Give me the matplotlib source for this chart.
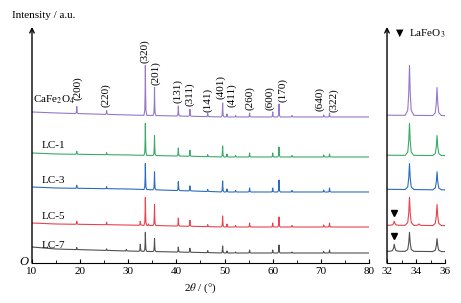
import numpy as np
import matplotlib
matplotlib.use("Agg")
import matplotlib.pyplot as plt

plt.rcParams['font.family'] = ['Liberation Serif', 'DejaVu Sans']
plt.rcParams['mathtext.fontset'] = 'stix'
plt.rcParams['font.size'] = 8

# peak positions (2theta, deg) shared by all patterns
peak_pos = [19.3, 25.5, 29.6, 32.5, 33.55, 34.2, 35.45, 40.4, 42.8, 46.5,
            49.6, 50.5, 52.3, 55.2, 60.0, 61.3, 64.0, 70.6, 71.8]

# peak heights above baseline for each sample
h_cafe = [7, 4, 0, 0, 50, 0, 28, 10, 7, 3, 14, 3, 1.5, 4, 5, 13, 1.5, 2, 4]
h_lc1 = [3, 2, 0, 0, 32, 0, 20, 8, 6, 2, 11, 3, 1.5, 4, 4, 10, 1.5, 2, 3]
h_lc3 = [3, 2, 0, 0, 26, 0, 18, 9, 5, 2, 11, 3, 1.5, 4, 4, 12, 1.5, 2, 4]
h_lc5 = [3, 2.5, 0, 4, 28, 1.5, 21, 8, 6, 2, 11, 3, 1.5, 4, 4, 10, 1.5, 2, 4]
h_lc7 = [2, 1.5, 1.5, 7, 19, 0, 13, 5, 4, 2, 7, 2, 1, 3, 3, 8, 1, 1.5, 3]

# baselines read at a few angles
base_x = [10, 15, 30, 50, 80]
base_cafe = [151, 150, 148, 146, 146]
base_lc1 = [110, 109, 108, 106, 106]
base_lc3 = [76, 75, 74, 71, 71]
base_lc5 = [40, 39, 38, 36, 36]
base_lc7 = [16, 14, 12, 10, 10]

samples = ['CaFe$_2$O$_4$', 'LC-1', 'LC-3', 'LC-5', 'LC-7']
heights = [h_cafe, h_lc1, h_lc3, h_lc5, h_lc7]
bases = [base_cafe, base_lc1, base_lc3, base_lc5, base_lc7]
colors = ['#9678c8', '#3aaa68', '#2c6cc0', '#e8434f', '#505050']
label_x = [10.2, 12.1, 12.1, 12.1, 12.1]
label_y = [160, 115, 80, 44, 15]

hkl = ['(200)', '(220)', '(320)', '(201)', '(131)', '(311)', '(141)',
       '(401)', '(411)', '(260)', '(600)', '(170)', '(640)', '(322)']
hkl_x = [19.4, 25.4, 33.5, 35.6, 40.2, 42.7, 46.5,
         49.2, 51.5, 55.2, 59.4, 62.1, 69.8, 72.7]
hkl_y = [163, 156, 200, 178, 160, 157, 151,
         164, 156, 153, 153, 161, 152, 151]

# peak profile template
shape_dx = np.array([-0.3, -0.12, -0.05, 0, 0.05, 0.12, 0.3])
shape_f = np.array([0, 0.1, 0.45, 1, 0.45, 0.1, 0])


def pattern(h, base):
    xs = list(base_x)
    ys = list(base)
    for p, hh in zip(peak_pos, h):
        if hh == 0:
            continue
        b = np.interp(p, base_x, base)
        xs += list(p + shape_dx)
        ys += list(b + hh * shape_f)
    order = np.argsort(xs, kind='stable')
    return np.array(xs)[order], np.array(ys)[order]


fig = plt.figure(figsize=(4.61, 3.03), dpi=100)
ax = fig.add_axes([0.0694, 0.132, 0.731, 0.779])
ax2 = fig.add_axes([0.8395, 0.132, 0.1258, 0.779])

for name, h, base, c, lx, ly in zip(samples, heights, bases, colors, label_x, label_y):
    x, y = pattern(h, base)
    ax.plot(x, y, color=c, lw=0.8)
    ax2.plot(x, y, color=c, lw=0.8)
    ax.text(lx, ly, name, ha='left', va='baseline', fontsize=8)

for t, x, y in zip(hkl, hkl_x, hkl_y):
    ax.text(x, y, t, rotation=90, ha='center', va='bottom', fontsize=8)

# LaFeO3 markers on LC-5 and LC-7
for k in (3, 4):
    b = np.interp(32.5, base_x, bases[k])
    ax2.plot(32.5, b + heights[k][3] + 8, marker='v', color='k', ms=5)

ax.set_xlim(10, 80)
ax2.set_xlim(32, 36)
for a in (ax, ax2):
    a.set_ylim(0, 236)
    a.set_yticks([])
    a.spines['top'].set_visible(False)
    a.spines['right'].set_visible(False)
    a.spines['left'].set_visible(False)
    a.tick_params(axis='x', direction='in', length=3, pad=3, labelsize=8)
    a.tick_params(axis='x', which='minor', direction='in', length=2)
    a.annotate('', xy=(0, 1.0), xytext=(0, 0), xycoords='axes fraction',
                arrowprops=dict(arrowstyle='->', lw=1, color='k',
                                shrinkA=0, shrinkB=0))

ax.set_xticks(range(10, 81, 10))
ax.set_xticks(range(15, 80, 10), minor=True)
ax2.set_xticks([32, 34, 36])
ax2.set_xticks([33, 35], minor=True)

ax.set_xlabel(r'2$\theta$ / (°)', fontsize=8, labelpad=4)
fig.text(0.026, 0.95, 'Intensity / a.u.', fontsize=8, ha='left', va='center')
fig.text(0.052, 0.135, 'O', fontsize=9, style='italic', ha='center', va='center')
ax2.text(32.9, 230, '▼', family='DejaVu Sans', fontsize=7, ha='center', va='center')
ax2.text(33.5, 229, 'LaFeO$_3$', fontsize=8, ha='left', va='center')

fig.savefig('out.png', dpi=100)
